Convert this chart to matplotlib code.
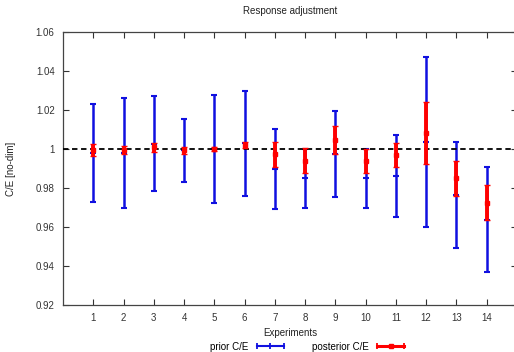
import matplotlib
matplotlib.use("Agg")
import matplotlib.pyplot as plt
from matplotlib.lines import Line2D
from matplotlib.legend_handler import HandlerLine2D, HandlerTuple

plt.rcParams['font.family'] = ['Liberation Sans', 'DejaVu Sans']

experiments = list(range(1, 15))
prior_ce = [0.998, 0.998, 1.0028, 0.9993, 1.0001, 1.0029, 0.9899, 0.985, 0.9976, 0.985, 0.9861, 1.0035, 0.9763, 0.9638]
prior_err = [0.025, 0.0282, 0.0243, 0.0161, 0.0276, 0.027, 0.0205, 0.015, 0.0221, 0.015, 0.0212, 0.0435, 0.0273, 0.027]
post_ce = [0.9995, 0.9995, 1.0008, 0.9993, 1.0, 1.0022, 0.9973, 0.994, 1.0046, 0.9937, 0.9968, 1.0084, 0.985, 0.9725]
post_err = [0.0029, 0.0019, 0.0022, 0.0019, 0.001, 0.0015, 0.0065, 0.0063, 0.007, 0.0062, 0.0061, 0.0159, 0.009, 0.0089]

blue = '#1010e0'
red = '#ff0000'

fig = plt.figure(figsize=(5.14, 3.52), dpi=100)
ax = fig.add_axes([0.1226, 0.1335, 0.883, 0.7756])

ax.errorbar(experiments, prior_ce, yerr=prior_err, fmt='_', color=blue,
            ms=5, mew=1.5, elinewidth=1.8, capsize=2.5, capthick=1.5, zorder=2)
ax.axhline(1.0, color='black', lw=1.3, ls=(0, (3, 2)), zorder=3)
ax.errorbar(experiments, post_ce, yerr=post_err, fmt='s', color=red,
            ms=3.5, mew=1, elinewidth=2.8, capsize=2.5, capthick=1.5, zorder=4)

ax.set_xlim(0, 15)
ax.set_ylim(0.92, 1.06)
ax.set_xticks(experiments)
yt = [0.92, 0.94, 0.96, 0.98, 1.0, 1.02, 1.04, 1.06]
ax.set_yticks(yt)
ax.set_yticklabels(['0.92', '0.94', '0.96', '0.98', '1', '1.02', '1.04', '1.06'])
ax.tick_params(direction='in', length=4, width=0.8, labelsize=7, colors='#333333',
               top=True, right=True, pad=6)
for s in ax.spines.values():
    s.set_color('#444444')
    s.set_linewidth(0.9)

ax.set_title('Response adjustment', fontsize=7, color='#222222', pad=13)
ax.set_xlabel('Experiments', fontsize=7, color='#222222', labelpad=3)
ax.set_ylabel('C/E [no-dim]', fontsize=7, color='#222222', labelpad=14)

# gnuplot-style legend samples: horizontal bar with end ticks and a centre mark
prior_bar = Line2D([], [], color=blue, lw=1.5, marker='|', ms=5, mew=1.3)
prior_mid = Line2D([], [], color=blue, lw=0, marker='|', ms=5, mew=1.3)
post_bar = Line2D([], [], color=red, lw=2.2, marker='|', ms=5, mew=1.3)
post_mid = Line2D([], [], color=red, lw=0, marker='s', ms=3.5)
hmap = {
    prior_bar: HandlerLine2D(numpoints=2),
    prior_mid: HandlerLine2D(numpoints=1),
    post_bar: HandlerLine2D(numpoints=2),
    post_mid: HandlerLine2D(numpoints=1),
    tuple: HandlerTuple(ndivide=1),
}
fig.legend(handles=[(prior_bar, prior_mid), (post_bar, post_mid)],
           labels=['prior C/E', 'posterior C/E'],
           loc='center', bbox_to_anchor=(0.6, 0.015),
           ncol=2, frameon=False, fontsize=7, markerfirst=False,
           handlelength=3.3, handletextpad=0.6, columnspacing=2.6,
           handler_map=hmap)

fig.savefig('out.png', dpi=100)
